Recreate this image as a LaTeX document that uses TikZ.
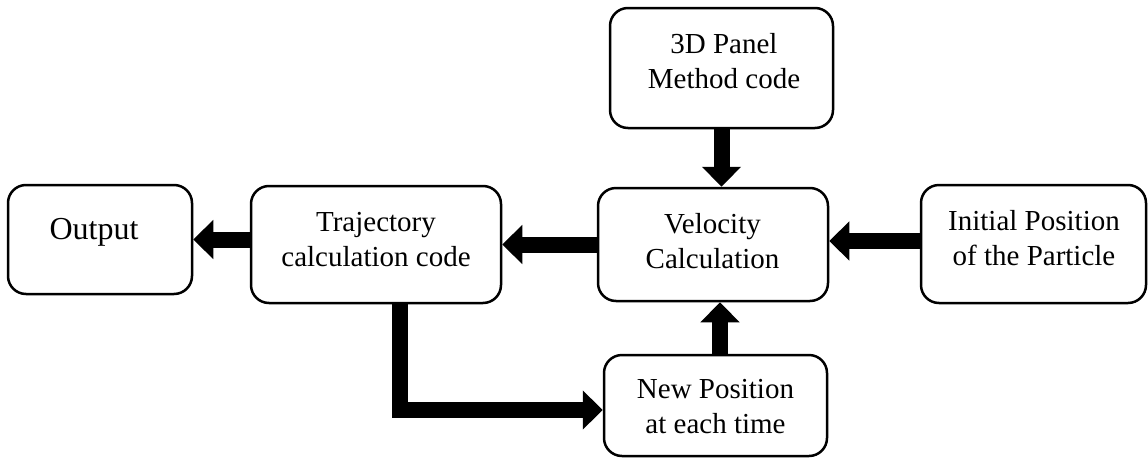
\documentclass[tikz,border=0pt]{standalone}
\usepackage{fontspec}
\setmainfont{Liberation Serif}
\usetikzlibrary{arrows.meta,calc}
\tikzset{
  blockbox/.style={draw=black, line width=2.5pt, rounded corners=18pt, fill=white, inner sep=0pt},
  boxtext/.style={align=center, inner sep=0pt, font=\fontsize{29pt}{35pt}\selectfont},
  bigarrow/.style={line width=16pt, line join=miter, -{Triangle[length=20pt,width=38pt]}}
}
\begin{document}
\begin{tikzpicture}[x=1pt,y=-1pt]
\useasboundingbox (0,0) rectangle (1148,458);
% boxes
\node[blockbox, minimum width=223pt, minimum height=120pt] (panel) at (721.5,68) {};
\node[blockbox, minimum width=184pt, minimum height=109pt] (output) at (100,239.5) {};
\node[blockbox, minimum width=250pt, minimum height=117pt] (traj) at (376,244.5) {};
\node[blockbox, minimum width=230pt, minimum height=113pt] (vel) at (713,244.5) {};
\node[blockbox, minimum width=225pt, minimum height=118pt] (init) at (1033.5,244) {};
\node[blockbox, minimum width=223pt, minimum height=101pt] (new) at (715.5,405.5) {};
% texts
\node[boxtext] (paneltext) at (724,60.75) {3D Panel\\Method code};
\node[boxtext, font=\fontsize{32pt}{38pt}\selectfont] (outputtext) at (94,232.7) {Output};
\node[boxtext] (trajtext) at (376,239.75) {Trajectory\\calculation code};
\node[boxtext] (veltext) at (712.5,240.75) {Velocity\\Calculation};
\node[boxtext] (inittext) at (1034,237.75) {Initial Position\\of the Particle};
\node[boxtext] (newtext) at (715.5,406.75) {New Position\\at each time};
% arrows
\draw[bigarrow] (panel.south) -- (panel.south |- vel.north);
\draw[bigarrow] (vel.west) -- (vel.west -| traj.east);
\draw[bigarrow] (traj.west |- output.east) -- (output.east);
\draw[bigarrow] ([yshift=3pt]init.west) -- ([yshift=3pt]init.west -| vel.east);
\draw[bigarrow] ([xshift=4.5pt]new.north) -- ([xshift=4.5pt]new.north |- vel.south);
\draw[bigarrow] ([xshift=24pt]traj.south) |- ([yshift=-4.5pt]new.west);
\end{tikzpicture}
\end{document}
